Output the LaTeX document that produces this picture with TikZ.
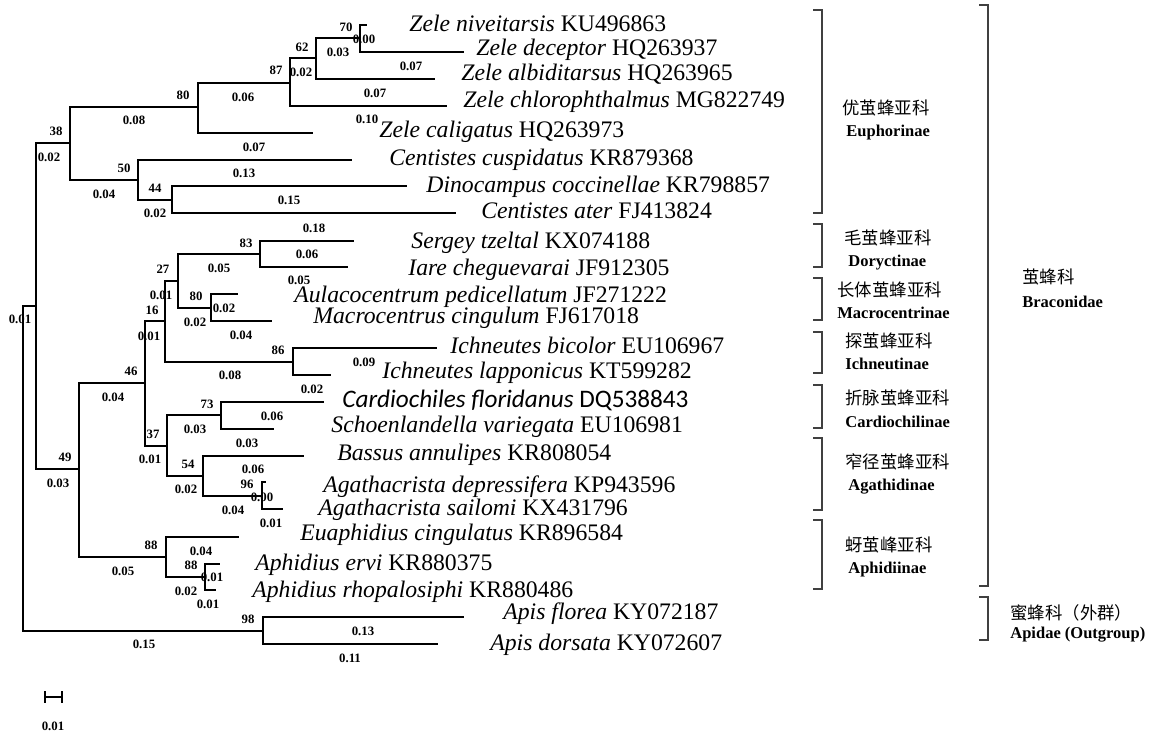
\documentclass[tikz,border=0pt]{standalone}
\usepackage{fontspec}
\setmainfont{Liberation Serif}
\newfontfamily\cjk{Noto Sans CJK SC}
\newfontfamily\calib{Carlito}
\begin{document}
\begin{tikzpicture}[x=0.5pt,y=-0.5pt,
  edge/.style={line width=1pt,line cap=rect},
  tax/.style={anchor=base west,inner sep=0pt,font=\fontsize{11.85}{14}\selectfont},
  num/.style={inner sep=0pt,font=\bfseries\fontsize{6.4}{7}\selectfont},
  grp/.style={line width=0.7pt,draw=black!75},
  cn/.style={anchor=west,inner sep=0pt,font=\cjk\fontsize{8.7}{10}\selectfont},
  en/.style={anchor=base west,inner sep=0pt,font=\bfseries\fontsize{8.25}{10}\selectfont}]
\useasboundingbox (0,0) rectangle (1164,735);
% ---- internal nodes (x of vertical bar, y of incoming branch)
\coordinate (r) at (23,306);
\coordinate (in) at (36,306);
\coordinate (eu) at (70,143);
\coordinate (n80) at (198,107);
\coordinate (n87) at (290,83);
\coordinate (n62) at (316,58);
\coordinate (n70) at (360,38);
\coordinate (n50) at (138,180);
\coordinate (n44) at (172,200);
\coordinate (n49) at (79,469);
\coordinate (n46) at (145,383);
\coordinate (n16) at (165,321);
\coordinate (n27) at (178,281);
\coordinate (n83) at (260,254);
\coordinate (n80b) at (211,308);
\coordinate (n86) at (293,362);
\coordinate (n37) at (167,446);
\coordinate (n73) at (221,415);
\coordinate (n54) at (203,476);
\coordinate (n96) at (262,496);
\coordinate (n88) at (166,557);
\coordinate (n88b) at (205,577);
\coordinate (ap) at (263,631);
% ---- tips
\coordinate (z1) at (366,25);
\coordinate (z2) at (463,52);
\coordinate (z3) at (434,79);
\coordinate (z4) at (446,106);
\coordinate (z5) at (312,133);
\coordinate (c1) at (351,160);
\coordinate (c2) at (406,186);
\coordinate (c3) at (455,213);
\coordinate (s1) at (353,241);
\coordinate (s2) at (347,267);
\coordinate (m1) at (237,294);
\coordinate (m2) at (271,321);
\coordinate (i1) at (436,348);
\coordinate (i2) at (330,375);
\coordinate (d1) at (323,402);
\coordinate (d2) at (273,429);
\coordinate (g1) at (303,456);
\coordinate (g2) at (265,482);
\coordinate (g3) at (282,509);
\coordinate (a1) at (238,537);
\coordinate (a2) at (219,564);
\coordinate (a3) at (215,590);
\coordinate (o1) at (463,617);
\coordinate (o2) at (437,644);
% ---- branches
\draw[edge] (r) |- (in) (r) |- (ap);
\draw[edge] (in) |- (eu) (in) |- (n49);
\draw[edge] (eu) |- (n80) (eu) |- (n50);
\draw[edge] (n80) |- (n87) (n80) |- (z5);
\draw[edge] (n87) |- (n62) (n87) |- (z4);
\draw[edge] (n62) |- (n70) (n62) |- (z3);
\draw[edge] (n70) |- (z1) (n70) |- (z2);
\draw[edge] (n50) |- (c1) (n50) |- (n44);
\draw[edge] (n44) |- (c2) (n44) |- (c3);
\draw[edge] (n49) |- (n46) (n49) |- (n88);
\draw[edge] (n46) |- (n16) (n46) |- (n37);
\draw[edge] (n16) |- (n27) (n16) |- (n86);
\draw[edge] (n27) |- (n83) (n27) |- (n80b);
\draw[edge] (n83) |- (s1) (n83) |- (s2);
\draw[edge] (n80b) |- (m1) (n80b) |- (m2);
\draw[edge] (n86) |- (i1) (n86) |- (i2);
\draw[edge] (n37) |- (n73) (n37) |- (n54);
\draw[edge] (n73) |- (d1) (n73) |- (d2);
\draw[edge] (n54) |- (g1) (n54) |- (n96);
\draw[edge] (n96) |- (g2) (n96) |- (g3);
\draw[edge] (n88) |- (a1) (n88) |- (n88b);
\draw[edge] (n88b) |- (a2) (n88b) |- (a3);
\draw[edge] (ap) |- (o1) (ap) |- (o2);
% ---- taxon labels
\node[tax] (T1) at (409,31) {\textit{Zele niveitarsis} KU496863};
\node[tax] (T2) at (476,55) {\textit{Zele deceptor} HQ263937};
\node[tax] (T3) at (461,80) {\textit{Zele albiditarsus} HQ263965};
\node[tax] (T4) at (463,107) {\textit{Zele chlorophthalmus} MG822749};
\node[tax] (T5) at (379,137) {\textit{Zele caligatus} HQ263973};
\node[tax] (T6) at (389,165) {\textit{Centistes cuspidatus} KR879368};
\node[tax] (T7) at (426,192) {\textit{Dinocampus coccinellae} KR798857};
\node[tax] (T8) at (481,218) {\textit{Centistes ater} FJ413824};
\node[tax] (T9) at (411,248) {\textit{Sergey tzeltal} KX074188};
\node[tax] (T10) at (408,275) {\textit{Iare cheguevarai} JF912305};
\node[tax] (T11) at (294,302) {\textit{Aulacocentrum pedicellatum} JF271222};
\node[tax] (T12) at (313,323) {\textit{Macrocentrus cingulum} FJ617018};
\node[tax] (T13) at (450,353) {\textit{Ichneutes bicolor} EU106967};
\node[tax] (T14) at (382,378) {\textit{Ichneutes lapponicus} KT599282};
\node[tax,font=\calib\fontsize{12.6}{14}\selectfont] (T15) at (342,407) {\textit{Cardiochiles floridanus} DQ538843};
\node[tax] (T16) at (331,432) {\textit{Schoenlandella variegata} EU106981};
\node[tax] (T17) at (337,460) {\textit{Bassus annulipes} KR808054};
\node[tax] (T18) at (323,492) {\textit{Agathacrista depressifera} KP943596};
\node[tax] (T19) at (318,515) {\textit{Agathacrista sailomi} KX431796};
\node[tax] (T20) at (300,540) {\textit{Euaphidius cingulatus} KR896584};
\node[tax] (T21) at (255,570) {\textit{Aphidius ervi} KR880375};
\node[tax] (T22) at (252,597) {\textit{Aphidius rhopalosiphi} KR880486};
\node[tax] (T23) at (503,619) {\textit{Apis florea} KY072187};
\node[tax] (T24) at (490,650) {\textit{Apis dorsata} KY072607};
% ---- bootstrap values
\node[num] (b1) at (346,27) {70};
\node[num] (b2) at (302,47) {62};
\node[num] (b3) at (276,70) {87};
\node[num] (b4) at (183,95) {80};
\node[num] (b5) at (56,131) {38};
\node[num] (b6) at (124,168) {50};
\node[num] (b7) at (155,188) {44};
\node[num] (b8) at (246,243) {83};
\node[num] (b9) at (163,269) {27};
\node[num] (b10) at (196,296) {80};
\node[num] (b11) at (152,310) {16};
\node[num] (b12) at (278,350) {86};
\node[num] (b13) at (131,371) {46};
\node[num] (b14) at (207,404) {73};
\node[num] (b15) at (153,434) {37};
\node[num] (b16) at (65,457) {49};
\node[num] (b17) at (188,464) {54};
\node[num] (b18) at (247,484) {96};
\node[num] (b19) at (151,545) {88};
\node[num] (b20) at (191,565) {88};
\node[num] (b21) at (248,619) {98};
% ---- branch lengths
\node[num] (l1) at (364,39) {0.00};
\node[num] (l2) at (338,52) {0.03};
\node[num] (l3) at (411,66) {0.07};
\node[num] (l4) at (301,72) {0.02};
\node[num] (l5) at (375,93) {0.07};
\node[num] (l6) at (243,97) {0.06};
\node[num] (l7) at (367,119) {0.10};
\node[num] (l8) at (134,120) {0.08};
\node[num] (l9) at (254,147) {0.07};
\node[num] (l10) at (49,157) {0.02};
\node[num] (l11) at (244,173) {0.13};
\node[num] (l12) at (104,194) {0.04};
\node[num] (l13) at (289,200) {0.15};
\node[num] (l14) at (155,213) {0.02};
\node[num] (l15) at (314,228) {0.18};
\node[num] (l16) at (307,254) {0.06};
\node[num] (l17) at (219,268) {0.05};
\node[num] (l18) at (299,280) {0.05};
\node[num] (l19) at (161,295) {0.01};
\node[num] (l20) at (224,308) {0.02};
\node[num] (l21) at (20,319) {0.01};
\node[num] (l22) at (195,322) {0.02};
\node[num] (l23) at (149,336) {0.01};
\node[num] (l24) at (241,335) {0.04};
\node[num] (l25) at (364,362) {0.09};
\node[num] (l26) at (230,375) {0.08};
\node[num] (l27) at (312,389) {0.02};
\node[num] (l28) at (113,397) {0.04};
\node[num] (l29) at (272,416) {0.06};
\node[num] (l30) at (195,429) {0.03};
\node[num] (l31) at (247,443) {0.03};
\node[num] (l32) at (150,459) {0.01};
\node[num] (l33) at (253,469) {0.06};
\node[num] (l34) at (58,483) {0.03};
\node[num] (l35) at (186,489) {0.02};
\node[num] (l36) at (262,497) {0.00};
\node[num] (l37) at (233,510) {0.04};
\node[num] (l38) at (271,523) {0.01};
\node[num] (l39) at (201,551) {0.04};
\node[num] (l40) at (123,571) {0.05};
\node[num] (l41) at (212,577) {0.01};
\node[num] (l42) at (186,591) {0.02};
\node[num] (l43) at (208,604) {0.01};
\node[num] (l44) at (363,631) {0.13};
\node[num] (l45) at (144,644) {0.15};
\node[num] (l46) at (350,658) {0.11};
% ---- scale bar
\coordinate (sb1) at (45,697);
\coordinate (sb2) at (62,697);
\coordinate (sb1t) at (45,691);
\coordinate (sb1b) at (45,703);
\coordinate (sb2t) at (62,691);
\coordinate (sb2b) at (62,703);
\draw[edge,line cap=butt] (sb1) -- (sb2);
\draw[edge,line cap=butt] (sb1t) -- (sb1b);
\draw[edge,line cap=butt] (sb2t) -- (sb2b);
\node[num] (sbl) at (53,726) {0.01};
% ---- group brackets
\draw[grp] (813,10) -- (822,10) -- (822,213) -- (813,213);
\draw[grp] (813,224) -- (822,224) -- (822,267) -- (813,267);
\draw[grp] (813,278) -- (822,278) -- (822,320) -- (813,320);
\draw[grp] (813,332) -- (822,332) -- (822,373) -- (813,373);
\draw[grp] (813,385) -- (822,385) -- (822,428) -- (813,428);
\draw[grp] (813,438) -- (822,438) -- (822,510) -- (813,510);
\draw[grp] (813,520) -- (822,520) -- (822,589) -- (813,589);
\draw[grp] (979,5) -- (988,5) -- (988,586) -- (979,586);
\draw[grp] (979,597) -- (988,597) -- (988,640) -- (979,640);
% ---- group labels
\node[cn] (g1c) at (842,108) {优茧蜂亚科};
\node[en] (g1e) at (846,136) {Euphorinae};
\node[cn] (g2c) at (844,238) {毛茧蜂亚科};
\node[en] (g2e) at (848,266) {Doryctinae};
\node[cn] (g3c) at (837,290) {长体茧蜂亚科};
\node[en] (g3e) at (837,318) {Macrocentrinae};
\node[cn] (g4c) at (845,341) {探茧蜂亚科};
\node[en] (g4e) at (845,369) {Ichneutinae};
\node[cn] (g5c) at (845,398) {折脉茧蜂亚科};
\node[en] (g5e) at (845,427) {Cardiochilinae};
\node[cn] (g6c) at (845,462) {窄径茧蜂亚科};
\node[en] (g6e) at (848,490) {Agathidinae};
\node[cn] (g7c) at (845,545) {蚜茧峰亚科};
\node[en] (g7e) at (848,573) {Aphidiinae};
\node[cn] (g8c) at (1022,277) {茧蜂科};
\node[en] (g8e) at (1022,307) {Braconidae};
\node[cn] (g9c) at (1010,613) {蜜蜂科（外群）};
\node[en] (g9e) at (1010,638) {Apidae (Outgroup)};
\end{tikzpicture}
\end{document}
